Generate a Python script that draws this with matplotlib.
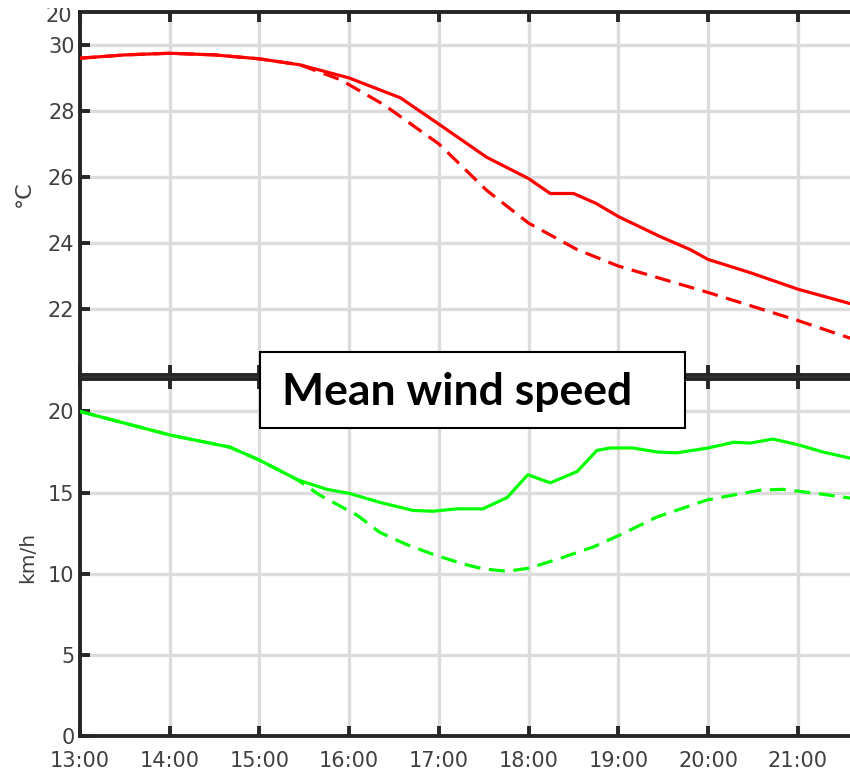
import matplotlib
matplotlib.use("Agg")
import matplotlib.pyplot as plt
from matplotlib.patches import Rectangle

# hours as decimal (13.5 = 13:30)
TEMP_T = [13.0, 13.5, 14.0, 14.5, 15.0, 15.45, 16.0, 16.57, 17.0, 17.53, 18.0,
          18.24, 18.5, 18.75, 19.0, 19.46, 19.8, 20.0, 20.47, 21.0, 21.6]
TEMP = [29.6, 29.7, 29.75, 29.7, 29.58, 29.4, 29.0, 28.4, 27.6, 26.6, 25.95,
        25.5, 25.5, 25.2, 24.8, 24.2, 23.8, 23.5, 23.1, 22.6, 22.15]

TEMP2_T = [13.0, 13.5, 14.0, 14.5, 15.0, 15.45, 15.9, 16.38, 17.0, 17.53, 18.0,
           18.54, 19.0, 20.0, 21.0, 21.6]
TEMP2 = [29.6, 29.7, 29.75, 29.7, 29.58, 29.4, 28.95, 28.2, 27.0, 25.6, 24.6,
         23.8, 23.3, 22.5, 21.65, 21.1]

WIND_T = [13.0, 14.0, 14.67, 15.0, 15.42, 15.75, 16.0, 16.34, 16.71, 16.93,
          17.2, 17.49, 17.76, 17.99, 18.24, 18.54, 18.76, 18.91, 19.16, 19.43,
          19.65, 20.0, 20.28, 20.47, 20.72, 21.0, 21.28, 21.6]
WIND = [20.0, 18.55, 17.8, 17.0, 15.8, 15.2, 14.95, 14.4, 13.9, 13.85,
        14.0, 14.0, 14.7, 16.1, 15.6, 16.3, 17.6, 17.75, 17.75, 17.5,
        17.45, 17.75, 18.1, 18.05, 18.3, 17.95, 17.5, 17.1]

WIND2_T = [13.0, 14.0, 14.67, 15.0, 15.42, 15.67, 16.09, 16.34, 16.64, 16.93,
           17.27, 17.49, 17.76, 18.01, 18.35, 18.72, 19.02, 19.43, 19.99, 20.28,
           20.58, 20.83, 21.21, 21.6]
WIND2 = [20.0, 18.55, 17.8, 17.0, 15.8, 14.85, 13.6, 12.55, 11.8, 11.2,
         10.6, 10.3, 10.15, 10.35, 10.95, 11.65, 12.4, 13.5, 14.55, 14.85,
         15.15, 15.2, 14.95, 14.65]

HOURS = list(range(13, 22))
HOUR_LABELS = ["%d:00" % h for h in HOURS]

W, H = 850, 772
SPINE = "#262626"
GRID = "#dcdcdc"
TXT = "#404040"


def fy(py):
    return (H - py) / H


def style_axes(ax):
    for side in ["left", "top", "bottom"]:
        ax.spines[side].set_linewidth(2.8)
        ax.spines[side].set_color(SPINE)
    ax.spines["right"].set_visible(False)
    ax.set_xlim(13, 21.58)
    ax.set_xticks(HOURS)
    ax.grid(True, color=GRID, lw=2.4, zorder=0)
    ax.set_axisbelow(True)
    ax.tick_params(direction="in", length=7, width=2.8, color=SPINE,
                   labelsize=15, labelcolor=TXT, top=True, right=False)
    ax.tick_params(axis="y", pad=4)


fig = plt.figure(figsize=(8.5, 7.72), dpi=100)
left = 80 / W
ax1 = fig.add_axes([left, fy(375), 1 - left, fy(12) - fy(375)])
ax2 = fig.add_axes([left, fy(736), 1 - left, fy(379) - fy(736)])

style_axes(ax1)
ax1.set_ylim(20, 31)
ax1.set_yticks([22, 24, 26, 28, 30])
ax1.tick_params(axis="x", labelbottom=False)
ax1.plot(TEMP_T, TEMP, color="#ff0000", lw=2.3, zorder=3)
ax1.plot(TEMP2_T, TEMP2, color="#ff0000", lw=2.3, dashes=(5, 2.7), zorder=3)
ax1.set_ylabel("°C", fontsize=16, color=TXT, labelpad=10)

style_axes(ax2)
ax2.set_ylim(0, 22)
ax2.set_yticks([0, 5, 10, 15, 20])
ax2.set_xticklabels(HOUR_LABELS)
ax2.tick_params(axis="x", pad=11)
ax2.plot(WIND_T, WIND, color="#00ff00", lw=2.3, zorder=3)
ax2.plot(WIND2_T, WIND2, color="#00ff00", lw=2.3, dashes=(5, 2.7), zorder=3)
ax2.set_ylabel("km/h", fontsize=14.5, color=TXT, labelpad=8)

# title box
fig.patches.append(Rectangle((260 / W, fy(428)), 425 / W, (428 - 352) / H,
                             transform=fig.transFigure, facecolor="white",
                             edgecolor="black", lw=1.5, zorder=10))
fig.text(282 / W, fy(405), "Mean wind speed", fontsize=32, fontweight="bold",
         family="Lato", color="black", va="baseline", ha="left", zorder=11)

# leftover label of the panel above, cut at the top edge
fig.text(72 / W, fy(22), "20", fontsize=15, color=TXT, ha="right",
         va="baseline")
fig.patches.append(Rectangle((0, fy(8)), 1, 8 / H, transform=fig.transFigure,
                             facecolor="white", edgecolor="none", zorder=20))

fig.savefig("out.png", dpi=100)
